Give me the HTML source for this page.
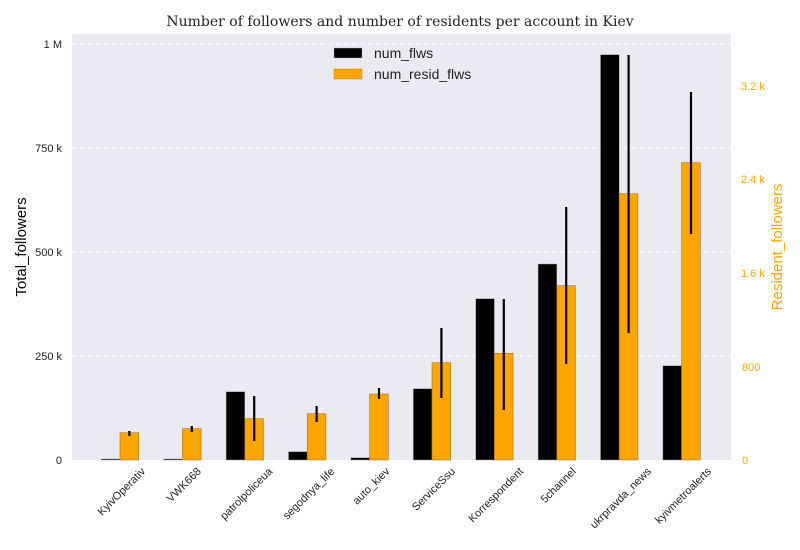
<!DOCTYPE html>
<html><head><meta charset="utf-8"><style>body{margin:0;background:#fff}svg{display:block}</style></head>
<body>
<svg id="s" width="800" height="550" xmlns="http://www.w3.org/2000/svg" font-family="Liberation Sans, sans-serif">
<rect x="0" y="0" width="800" height="550" fill="#fff"/>
<rect x="72" y="34" width="659" height="426" fill="#eaeaf2"/>
<g stroke="#fff" stroke-width="1" stroke-dasharray="5,3">
<line x1="72" x2="731" y1="44" y2="44"/><line x1="72" x2="731" y1="148" y2="148"/>
<line x1="72" x2="731" y1="252" y2="252"/><line x1="72" x2="731" y1="356" y2="356"/>
</g>
<g id="bars"></g>
<text x="400" y="26" text-anchor="middle" font-family="DejaVu Serif, Liberation Serif, serif" font-size="14" fill="#222">Number of followers and number of residents per account in Kiev</text>
<g font-size="11" fill="#222" text-anchor="end">
<text x="62" y="48">1 M</text><text x="62" y="152">750 k</text><text x="62" y="256">500 k</text><text x="62" y="360">250 k</text><text x="62" y="464">0</text>
</g>
<g font-size="11" fill="#ffa500" text-anchor="start">
<text x="741" y="90">3.2 k</text><text x="741" y="183">2.4 k</text><text x="741" y="277">1.6 k</text><text x="742" y="371">800</text><text x="742" y="464">0</text>
</g>
<text transform="translate(26,247) rotate(-90)" text-anchor="middle" font-size="15" fill="#000">Total_followers</text>
<text transform="translate(782,247) rotate(-90)" text-anchor="middle" font-size="15" fill="#ffa500">Resident_followers</text>
<rect x="334" y="48" width="28" height="10" fill="#000" stroke="#aaa" stroke-width="0.5"/>
<rect x="334" y="69" width="28" height="10" fill="#ffa500" stroke="#b8860b" stroke-width="0.5"/>
<text x="374" y="58" font-size="14" fill="#222">num_flws</text>
<text x="374" y="79" font-size="14" fill="#222">num_resid_flws</text>
<g id="lbl" font-size="11" fill="#222"></g>
</svg>
<script>
var NS="http://www.w3.org/2000/svg";
var names=["KyivOperativ","VWK668","patrolpoliceua","segodnya_life","auto_kiev","ServiceSsu","Korrespondent","5channel","ukrpravda_news","kyivmetroalerts"];
var bt=[459,459,391.7,451.7,457.7,388.7,298.7,264,54.7,365.7];
var ot=[432.7,428.7,418.7,413.7,394,362.7,353.3,285.7,193.7,162.7];
var e=[[431,436],[426,432],[396,441],[406,422],[388,399],[328,398],[299,410],[207,364],[55,333],[92,234]];
var g=document.getElementById("bars"),L=document.getElementById("lbl");
function el(t,a,p){var x=document.createElementNS(NS,t);for(var k in a)x.setAttribute(k,a[k]);p.appendChild(x);return x;}
for(var i=0;i<10;i++){
 var c=120+i*62.4;
 el("rect",{x:c-18.7,y:bt[i],width:18.7,height:460-bt[i],fill:"#000",stroke:"#999","stroke-width":0.5},g);
 el("rect",{x:c,y:ot[i],width:18.7,height:460-ot[i],fill:"#ffa500",stroke:"#a0782a","stroke-width":0.6},g);
 el("line",{x1:c+9.4,x2:c+9.4,y1:e[i][0],y2:e[i][1],stroke:"#000","stroke-width":2.2},g);
 var t=el("text",{"text-anchor":"end"},L);t.textContent=names[i];
 var w=t.getComputedTextLength();
 var px=c+w*0.3536+4,py=472;
 t.setAttribute("transform","translate("+px+","+py+") rotate(-45)");
}
</script>
</body></html>
